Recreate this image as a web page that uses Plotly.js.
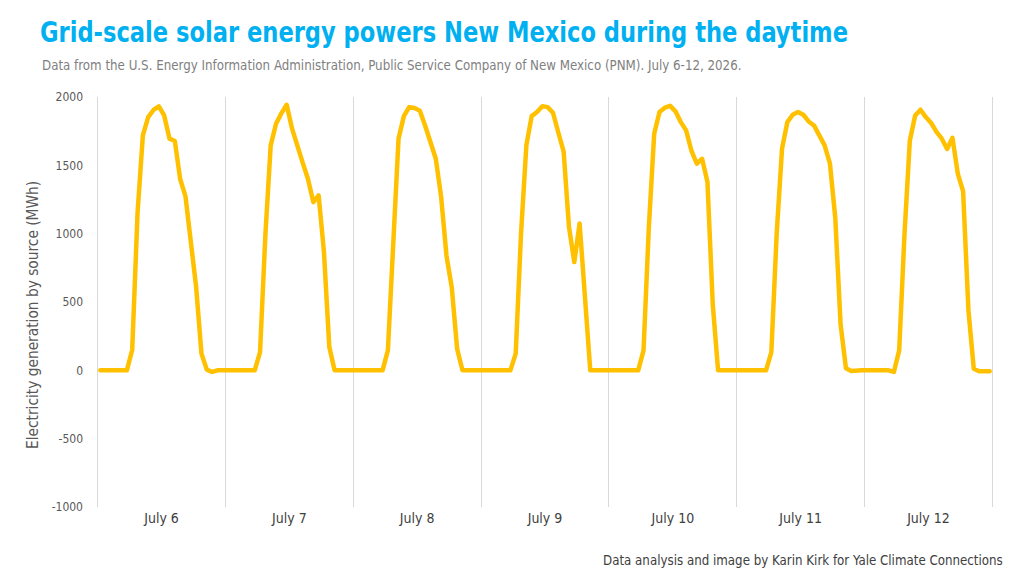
<!DOCTYPE html>
<html>
<head>
<meta charset="utf-8">
<script src="https://cdn.plot.ly/plotly-3.0.1.min.js"></script>
<style>
  html, body { margin: 0; padding: 0; background: #fff; }
  #chart { width: 1024px; height: 576px; }
  #chart .js-line { stroke-linecap: round; stroke-linejoin: round; }
</style>
</head>
<body>
<div id="chart"></div>
<script>
// Hourly solar generation (MWh), PNM, one array of 24 hourly values per day
const dayLabels = ["July 6", "July 7", "July 8", "July 9", "July 10", "July 11", "July 12"];
const july6  = [0,0,0,0,0,0,151,1150,1719,1853,1905,1931,1865,1695,1678,1400,1273,960,610,122,5,-12,0,0];
const july7  = [0,0,0,0,0,0,134,990,1646,1804,1880,1943,1770,1633,1520,1400,1231,1280,865,171,0,0,0,0];
const july8  = [0,0,0,0,0,0,146,1000,1694,1860,1926,1919,1900,1790,1655,1548,1268,840,605,158,0,0,0,0];
const july9  = [-8,0,0,0,0,0,122,1000,1646,1860,1890,1933,1926,1885,1740,1600,1050,792,1075,520,0,0,0,0];
const july10 = [0,0,0,0,0,0,146,1050,1731,1890,1922,1935,1895,1816,1756,1605,1512,1548,1378,480,0,0,0,0];
const july11 = [0,0,0,0,0,0,134,1000,1621,1816,1870,1890,1870,1821,1792,1719,1646,1512,1115,335,15,-5,0,0];
const july12 = [0,0,0,0,0,-12,146,1000,1682,1865,1907,1853,1810,1745,1695,1620,1702,1440,1310,440,12,-7,-7,-7];
const yTicks = [-1000, -500, 0, 500, 1000, 1500, 2000];

const days = [july6, july7, july8, july9, july10, july11, july12];
const solar = [].concat(...days);
const hours = solar.map((_, i) => i + 0.5);
const hoursPerDay = 24;
const dayCenters = dayLabels.map((_, i) => i * hoursPerDay + hoursPerDay / 2);

const font = '"DejaVu Sans Condensed", "Roboto", sans-serif';

const trace = {
  x: hours,
  y: solar,
  type: 'scatter',
  mode: 'lines',
  line: { color: '#FFC000', width: 4.5, shape: 'linear' },
  hoverinfo: 'skip',
  showlegend: false
};

const layout = {
  width: 1024,
  height: 576,
  paper_bgcolor: '#ffffff',
  plot_bgcolor: '#ffffff',
  margin: { l: 96, r: 30, t: 97, b: 69 },
  font: { family: font, color: '#595959', size: 12 },
  title: {
    text: 'Grid-scale solar energy powers New Mexico during the daytime',
    font: { family: font, size: 29, color: '#00B0F0', weight: 700 },
    x: 40 / 1024, xref: 'container', xanchor: 'left',
    y: 1 - 32 / 576, yref: 'container', yanchor: 'middle'
  },
  xaxis: {
    range: [-0.3, 168.3],
    tickmode: 'array',
    tickvals: dayCenters,
    ticktext: dayLabels,
    showgrid: false,
    zeroline: false,
    showline: false,
    ticks: '',
    tickfont: { family: font, size: 14, color: '#404040' },
    ticklabelstandoff: 1,
    minor: { tick0: 0, dtick: 24, showgrid: true, gridcolor: '#d9d9d9', gridwidth: 1, ticks: '' },
    fixedrange: true
  },
  yaxis: {
    range: [-1000, 2000],
    tickmode: 'array',
    tickvals: yTicks,
    ticktext: yTicks.map(String),
    showgrid: false,
    zeroline: false,
    showline: false,
    ticks: '',
    ticklabelstandoff: 12,
    tickfont: { family: font, size: 12, color: '#595959' },
    fixedrange: true
  },
  annotations: [
    {
      text: 'Data from the U.S. Energy Information Administration, Public Service Company of New Mexico (PNM). July 6-12, 2026.',
      xref: 'paper', yref: 'paper',
      x: (40 - 96) / 898, y: (507 - 66) / 410,
      xanchor: 'left', yanchor: 'middle',
      showarrow: false,
      font: { family: font, size: 13.2, color: '#7f7f7f' }
    },
    {
      text: 'Electricity generation by source (MWh)',
      xref: 'paper', yref: 'paper',
      x: (33 - 96) / 898, y: (507 - 315) / 410,
      xanchor: 'center', yanchor: 'middle',
      textangle: -90,
      showarrow: false,
      font: { family: font, size: 15.3, color: '#595959' }
    },
    {
      text: 'Data analysis and image by Karin Kirk for Yale Climate Connections',
      xref: 'paper', yref: 'paper',
      x: (1005 - 96) / 898, y: (507 - 560) / 410,
      xanchor: 'right', yanchor: 'middle',
      showarrow: false,
      font: { family: font, size: 13.2, color: '#404040' }
    }
  ]
};

// Fit a text element to a given pixel width (keeps it real text)
function fitWidth(el, width) {
  if (!el) return;
  el.setAttribute('textLength', width);
  el.setAttribute('lengthAdjust', 'spacingAndGlyphs');
}

Plotly.newPlot('chart', [trace], layout, { displayModeBar: false, staticPlot: true }).then(gd => {
  fitWidth(gd.querySelector('.gtitle'), 808);
});
</script>
</body>
</html>
